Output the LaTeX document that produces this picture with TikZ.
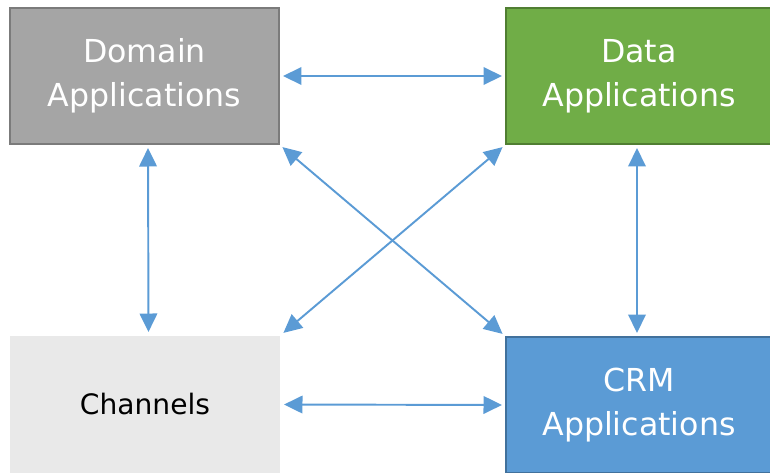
\documentclass[tikz,border=0pt]{standalone}
\usepackage{fontspec}
\setmainfont{DejaVu Sans}
\usepackage{tikz}
\usetikzlibrary{arrows.meta}

\definecolor{domgray}{HTML}{A5A5A5}
\definecolor{domedge}{HTML}{7B7B7B}
\definecolor{datagreen}{HTML}{70AD47}
\definecolor{dataedge}{HTML}{507E32}
\definecolor{crmblue}{HTML}{5B9BD5}
\definecolor{crmedge}{HTML}{41719C}
\definecolor{chanfill}{HTML}{E9E9E9}
\definecolor{link}{HTML}{5B9BD5}

\begin{document}
\begin{tikzpicture}[
    box/.style={rectangle, minimum height=2.72cm, align=center, text=white,
                line width=1.6pt, font=\fontsize{18}{25}\selectfont},
    link/.style={{Triangle[length=10.5pt,width=10pt]}-{Triangle[length=10.5pt,width=10pt]},
                 draw=link, fill=link, line width=1.1pt, shorten <=1.5pt, shorten >=1.5pt}]
            \useasboundingbox (0,0) rectangle (15.4,-9.46);
            % Cajas
            \node[box, draw=domedge, fill=domgray, minimum width=5.38cm] (domain) at (2.89,-1.52) {Domain\\Applications};
            \node[box, draw=dataedge, fill=datagreen, minimum width=5.32cm] (data) at (12.78,-1.52) {Data\\Applications};
            \node[box, fill=chanfill, text=black, minimum width=5.40cm, minimum height=2.74cm,
                  font=\fontsize{16}{22}\selectfont] (channels) at (2.90,-8.09) {Channels};
            \node[box, draw=crmedge, fill=crmblue, minimum width=5.32cm] (crm) at (12.78,-8.10) {CRM\\Applications};

            % Flechas
            \draw[link] (domain.east) -- (data.west);
            \draw[link] (channels.east) -- (crm.west);
            \draw[link] ([xshift=0.07cm]domain.south) -- ([xshift=0.07cm]channels.north);
            \draw[link] ([xshift=-0.04cm]data.south) -- ([xshift=-0.04cm]crm.north);
            \draw[link] (domain.south east) -- (crm.north west);
            \draw[link] (data.south west) -- (channels.north east);
          \end{tikzpicture}
\end{document}
